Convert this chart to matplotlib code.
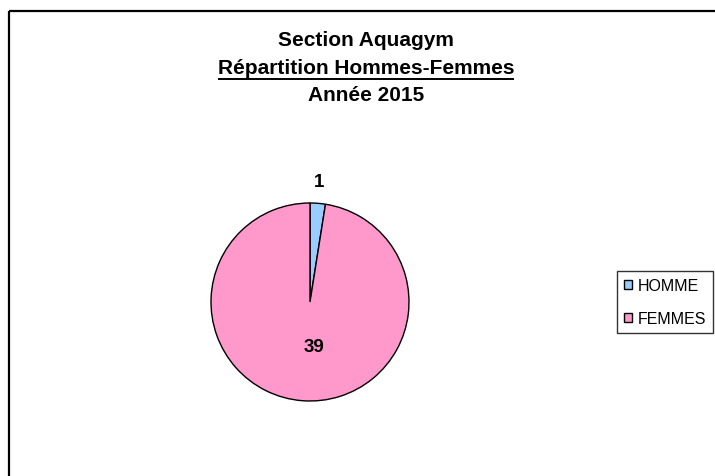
import matplotlib
matplotlib.use("Agg")
import matplotlib.pyplot as plt
from matplotlib.lines import Line2D
import numpy as np

plt.rcParams['font.family'] = ['Liberation Sans', 'DejaVu Sans']

categories = ["HOMME", "FEMMES"]
values = [1, 39]
colors = ["#99CCFF", "#FF99CC"]
title_lines = ["Section Aquagym", "Répartition Hommes-Femmes", "Année 2015"]

W, H = 715, 477
fig = plt.figure(figsize=(W / 100, H / 100), dpi=100)
fig.patch.set_facecolor("white")

# chart-area border (cropped: only left and top visible)
fig.add_artist(Line2D([9 / W, 9 / W], [0, 1 - 11.5 / H], transform=fig.transFigure,
                      color="black", lw=1.6, solid_capstyle="butt"))
fig.add_artist(Line2D([9 / W, 1], [1 - 11.5 / H, 1 - 11.5 / H], transform=fig.transFigure,
                      color="black", lw=1.6, solid_capstyle="butt"))

# pie
cx, cy, R = 310, 303, 99
S = 1.5
ax = fig.add_axes([(cx - R * S) / W, 1 - (cy + R * S) / H, 2 * R * S / W, 2 * R * S / H])
wedges, _ = ax.pie(values, colors=colors, startangle=90, counterclock=False,
                   wedgeprops=dict(edgecolor="black", linewidth=1.0))
ax.set_xlim(-S, S)
ax.set_ylim(-S, S)
ax.set_aspect("equal")
ax.axis("off")

label_dist = [1.22, 0.45]
for w, v, d in zip(wedges, values, label_dist):
    ang = np.deg2rad((w.theta1 + w.theta2) / 2)
    ax.text(d * np.cos(ang) + (0.08 if d < 1 else 0), d * np.sin(ang), str(v),
            ha="center", va="center", fontsize=13.5, fontweight="bold")

# title
title_y = [40, 68, 96]
tcx = 366
texts = []
for t, y in zip(title_lines, title_y):
    texts.append(fig.text(tcx / W, 1 - y / H, t, ha="center", va="center",
                          fontsize=15, fontweight="bold"))

fig.canvas.draw()
r = fig.canvas.get_renderer()
bb = texts[1].get_window_extent(renderer=r)
uy = 1 - 79.5 / H
fig.add_artist(Line2D([bb.x0 / W, bb.x1 / W], [uy, uy], transform=fig.transFigure,
                      color="black", lw=1.4, solid_capstyle="butt"))

# legend
leg = fig.legend(wedges, categories, loc="center left",
                 bbox_to_anchor=(617 / W, 1 - 303 / H), bbox_transform=fig.transFigure,
                 frameon=True, fancybox=False, shadow=False, fontsize=11.5,
                 handlelength=0.5, handleheight=0.5, handletextpad=0.35,
                 labelspacing=1.15, borderpad=0.45, borderaxespad=0)
leg.get_frame().set_edgecolor("black")
leg.get_frame().set_linewidth(1.0)

fig.savefig("out.png", dpi=100, facecolor="white")
